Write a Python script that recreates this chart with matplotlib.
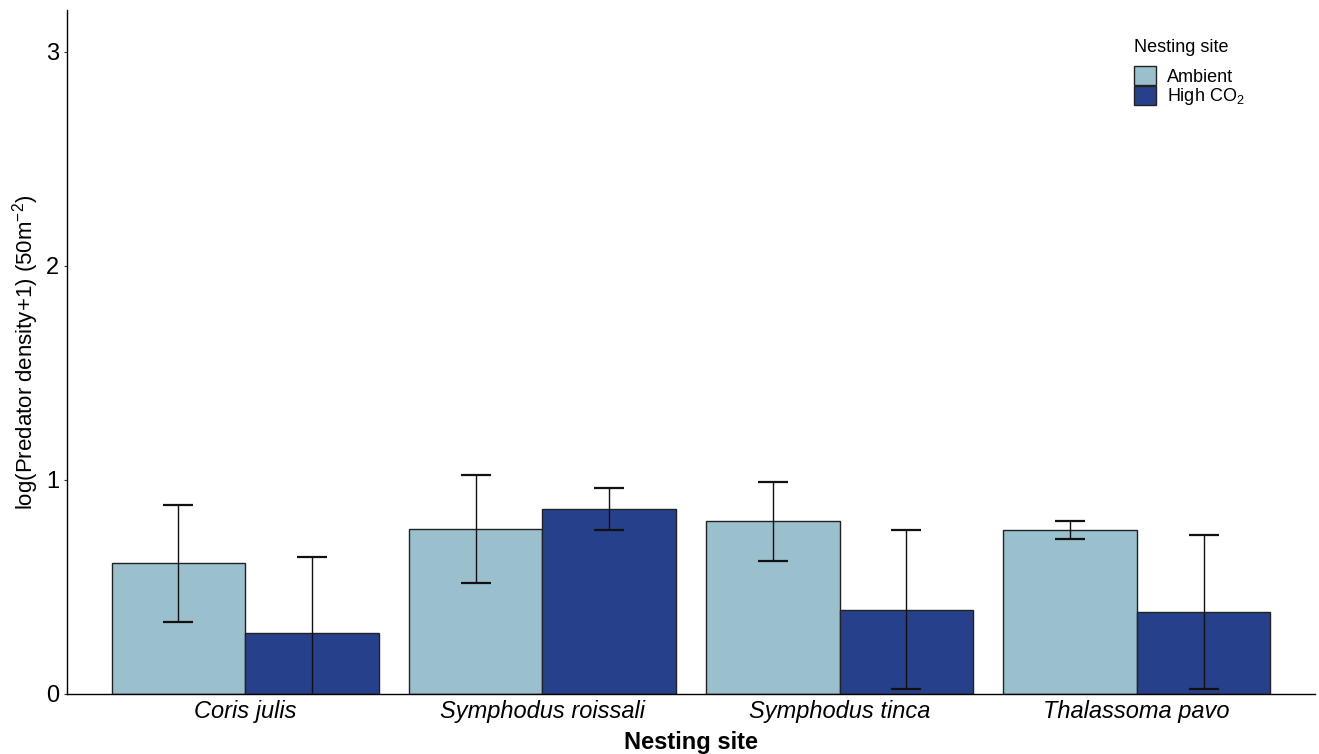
import numpy as np
import matplotlib.pyplot as plt
from matplotlib.patches import Patch

plt.rcParams['font.family'] = ['Liberation Sans', 'DejaVu Sans']
plt.rcParams['mathtext.fontset'] = 'custom'
plt.rcParams['mathtext.rm'] = 'Liberation Sans'
plt.rcParams['mathtext.it'] = 'Liberation Sans:italic'

# === Data ===
species = ["Coris julis", "Symphodus roissali", "Symphodus tinca", "Thalassoma pavo"]
ambient_mean = [0.612, 0.771, 0.808, 0.765]
ambient_lo = [0.336, 0.517, 0.623, 0.724]
ambient_hi = [0.885, 1.023, 0.990, 0.807]
high_mean = [0.285, 0.864, 0.391, 0.383]
high_lo = [-0.070, 0.765, 0.022, 0.025]
high_hi = [0.640, 0.963, 0.765, 0.743]

col_amb = "#9AC0CD"   # lightblue3
col_high = "#27408B"  # royalblue4

W, H = 1319, 754
fig = plt.figure(figsize=(W / 100, H / 100), dpi=100)
ax_l, ax_r, ax_b, ax_t = 67, 1315, 694, 10
ax = fig.add_axes([ax_l / W, (H - ax_b) / H, (ax_r - ax_l) / W, (ax_b - ax_t) / H])

x = np.arange(len(species))
w = 0.45

for means, lo, hi, col, off in [(ambient_mean, ambient_lo, ambient_hi, col_amb, -w / 2),
                                (high_mean, high_lo, high_hi, col_high, w / 2)]:
    means = np.array(means)
    ax.bar(x + off, means, width=w, color=col, edgecolor="#222222", linewidth=1.0, zorder=2)
    yerr = [means - np.array(lo), np.array(hi) - means]
    ax.errorbar(x + off, means, yerr=yerr, fmt="none", ecolor="#111111",
                elinewidth=1.0, capsize=10.8, capthick=1.6, zorder=3)

ax.set_xlim(-0.6, len(species) - 1 + 0.6)
ax.set_ylim(0, 3.196)
ax.set_yticks([0, 1, 2, 3])
ax.set_xticks(x)
ax.set_xticklabels(species, fontsize=17, style="italic")
ax.tick_params(axis="y", labelsize=17, length=2.5, width=0.8, color="#333333", pad=3)
ax.tick_params(axis="x", length=0, pad=4)

for s in ["top", "right"]:
    ax.spines[s].set_visible(False)
for s in ["left", "bottom"]:
    ax.spines[s].set_linewidth(1.0)

ax.set_xlabel("Nesting site", fontsize=17, fontweight="bold", labelpad=6)
ax.set_ylabel(r"log(Predator density+1) (50m$^{-2}$)", fontsize=16, labelpad=4)

# legend: title placed separately so the gap to the keys matches
def to_ax(px, py):
    return (px - ax_l) / (ax_r - ax_l), 1 - (py - ax_t) / (ax_b - ax_t)

handles = [Patch(facecolor=col_amb, edgecolor="#222222", label="Ambient"),
           Patch(facecolor=col_high, edgecolor="#222222", label=r"High CO$_2$")]
leg = ax.legend(handles=handles, loc="upper left", bbox_to_anchor=to_ax(1134, 66),
                frameon=False, fontsize=13,
                handlelength=1.2, handleheight=1.25, handletextpad=0.65,
                labelspacing=0.0, borderaxespad=0, borderpad=0)
tx, ty = to_ax(1134, 48)
ax.text(tx, ty, "Nesting site", transform=ax.transAxes, fontsize=13,
        ha="left", va="center")

fig.savefig("out.png", dpi=100)
